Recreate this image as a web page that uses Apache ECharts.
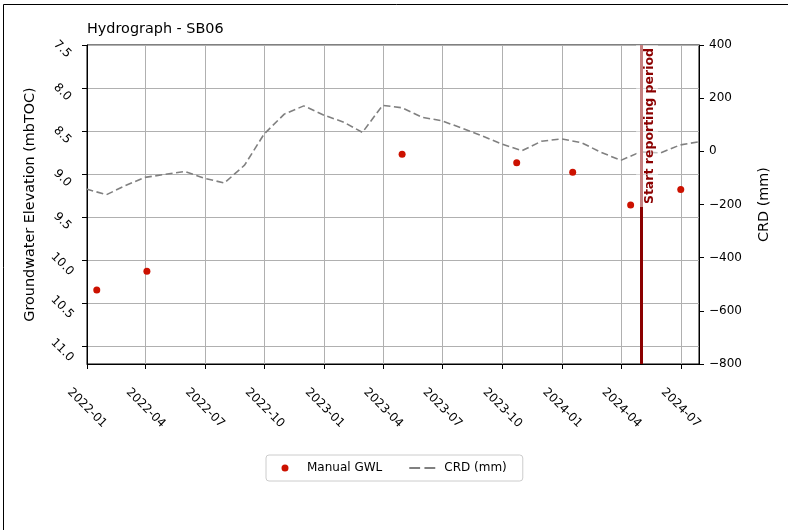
<!DOCTYPE html>
<html>
<head>
<meta charset="utf-8">
<script src="https://cdn.jsdelivr.net/npm/echarts@6/dist/echarts.min.js"></script>
<style>
  html, body { margin: 0; padding: 0; background: #fff; }
  #chart { width: 788px; height: 530px; }
</style>
</head>
<body>
<div id="chart"></div>
<script>
// Cumulative rainfall departure (mm), month-end values
const crdDates = ['2021-12-31','2022-01-31','2022-02-28','2022-03-31','2022-04-30','2022-05-31','2022-06-30','2022-07-31','2022-08-31','2022-09-30','2022-10-31','2022-11-30','2022-12-31','2023-01-31','2023-02-28','2023-03-31','2023-04-30','2023-05-31','2023-06-30','2023-07-31','2023-08-31','2023-09-30','2023-10-31','2023-11-30','2023-12-31','2024-01-31','2024-02-29','2024-03-31','2024-04-30','2024-05-31','2024-06-30','2024-07-31'];
const crdValues = [-142,-163,-130,-98,-87,-76,-101,-119,-52,65,140,171,136,109,71,173,164,128,115,87,58,28,2,38,47,32,-3,-34,-2,-6,24,37];

// Manual groundwater level readings (m below top of casing)
const gwlDates = ['2022-01-16','2022-04-03','2023-04-30','2023-10-23','2024-01-17','2024-04-15','2024-07-01'];
const gwlValues = [10.35, 10.13, 8.77, 8.87, 8.98, 9.36, 9.18];

// Axis ticks
const xTickMonths = ['2022-01','2022-04','2022-07','2022-10','2023-01','2023-04','2023-07','2023-10','2024-01','2024-04','2024-07'];
const gwlTicks = [7.5, 8.0, 8.5, 9.0, 9.5, 10.0, 10.5, 11.0];

const reportStart = '2024-05-01';
const xStart = '2022-01-01';
const xEnd = '2024-07-29';

// Dates are placed on a numeric (millisecond) axis
function dayStamp(s) {
  const [y, m, d] = s.split('-').map(Number);
  return Date.UTC(y, m - 1, d || 1);
}
function fmtMonth(v) {
  const d = new Date(v);
  return d.getUTCFullYear() + '-' + String(d.getUTCMonth() + 1).padStart(2, '0');
}
const xTicks = xTickMonths.map(dayStamp);

const FONT = 'DejaVu Sans';
const GWL_RED = '#cc1100';
const CRD_GREY = '#808080';

// Legend handles: a dot centred in a 26x7 box, and two dashes
const DOT_ICON = 'path://M0,0L0.01,0L0,0.01Z M26,7L25.99,7L26,6.99Z M16.5,3.5A3.5,3.5,0,1,1,9.5,3.5A3.5,3.5,0,1,1,16.5,3.5Z';
const DASH_ICON = 'path://M0,0h10v2h-10z M14,0h10v2h-10z';

const chart = echarts.init(document.getElementById('chart'), null, { renderer: 'canvas' });

chart.setOption({
  animation: false,
  textStyle: { fontFamily: FONT, color: '#000' },
  graphic: [{
    type: 'rect',
    shape: { x: 3.5, y: 4.5, width: 1000, height: 1000 },
    style: { fill: 'none', stroke: '#000', lineWidth: 1 },
    silent: true
  }],
  title: {
    text: 'Hydrograph - SB06',
    left: 87, top: 22, padding: 0,
    textStyle: { fontFamily: FONT, fontSize: 14.4, fontWeight: 'normal', color: '#000' }
  },
  grid: {
    left: 87, right: 89, top: 45, bottom: 166,
    show: true, borderColor: '#000', borderWidth: 1, backgroundColor: 'transparent'
  },
  legend: {
    left: 266, top: 455,
    padding: [7, 16, 7, 6],
    itemWidth: 26, itemHeight: 7, itemGap: 27,
    borderColor: '#cccccc', borderWidth: 1, borderRadius: 3,
    backgroundColor: '#fff',
    textStyle: { fontFamily: FONT, fontSize: 12, color: '#000', padding: [0, 0, 0, 4] },
    data: [
      { name: 'Manual GWL', icon: DOT_ICON, itemStyle: { color: GWL_RED, opacity: 1 } },
      { name: 'CRD (mm)', icon: DASH_ICON, itemStyle: { color: CRD_GREY, opacity: 1 } }
    ]
  },
  xAxis: {
    type: 'value',
    min: dayStamp(xStart), max: dayStamp(xEnd),
    axisLine: { show: true, onZero: false, lineStyle: { color: '#000', width: 1 } },
    axisTick: { show: true, length: 5, lineStyle: { color: '#000' }, customValues: xTicks },
    axisLabel: {
      customValues: xTicks,
      formatter: fmtMonth,
      rotate: -45, align: 'center', verticalAlign: 'middle', margin: 44,
      fontFamily: FONT, fontSize: 12, color: '#000', hideOverlap: false
    },
    splitLine: { show: true, lineStyle: { color: '#b0b0b0', width: 1 } }
  },
  yAxis: [{
    type: 'value',
    inverse: true,
    min: 7.5, max: 11.21,
    name: 'Groundwater Elevation (mbTOC)',
    nameLocation: 'middle', nameGap: 50, nameRotate: 90,
    nameTextStyle: { fontFamily: FONT, fontSize: 14.4, color: '#000' },
    axisLine: { show: true, onZero: false, lineStyle: { color: '#000', width: 1 } },
    axisTick: { show: true, length: 5, lineStyle: { color: '#000' }, customValues: gwlTicks },
    axisLabel: {
      customValues: gwlTicks,
      formatter: v => Number(v).toFixed(1),
      rotate: -45, align: 'center', verticalAlign: 'middle', margin: 29,
      padding: [12, 0, 0, 12],
      fontFamily: FONT, fontSize: 12, color: '#000'
    },
    splitLine: { show: true, lineStyle: { color: '#b0b0b0', width: 1 } }
  }, {
    type: 'value',
    position: 'right',
    min: -800, max: 400, interval: 200,
    name: 'CRD (mm)',
    nameLocation: 'middle', nameGap: 58, nameRotate: 90,
    nameTextStyle: { fontFamily: FONT, fontSize: 14.4, color: '#000' },
    axisLine: { show: true, onZero: false, lineStyle: { color: '#000', width: 1 } },
    axisTick: { show: true, length: 5, lineStyle: { color: '#000' } },
    axisLabel: {
      formatter: v => (v < 0 ? '\u2212' + Math.abs(v) : String(v)),
      margin: 10, fontFamily: FONT, fontSize: 12, color: '#000'
    },
    splitLine: { show: false }
  }],
  series: [{
    name: 'CRD (mm)',
    type: 'line',
    yAxisIndex: 1,
    data: crdDates.map((d, i) => [dayStamp(d), crdValues[i]]),
    showSymbol: false, symbol: 'none',
    lineStyle: { color: CRD_GREY, width: 1.6, type: [7, 3.5] },
    itemStyle: { color: CRD_GREY },
    z: 2,
    markLine: {
      silent: true,
      symbol: ['none', 'none'],
      lineStyle: { color: '#8b0000', width: 3, type: 'solid' },
      label: {
        show: true,
        formatter: 'Start reporting period',
        position: 'insideEndBottom',
        distance: [0, -5],
        color: '#8b0000', fontWeight: 'bold', fontSize: 12.5, fontFamily: FONT,
        backgroundColor: 'rgba(255,255,255,0.5)',
        padding: [7, 3, 2, 3]
      },
      emphasis: { disabled: true },
      data: [{ xAxis: dayStamp(reportStart) }]
    }
  }, {
    name: 'Manual GWL',
    type: 'scatter',
    yAxisIndex: 0,
    data: gwlDates.map((d, i) => [dayStamp(d), gwlValues[i]]),
    symbol: 'circle', symbolSize: 7,
    itemStyle: { color: GWL_RED, opacity: 1 },
    z: 4
  }]
});
</script>
</body>
</html>
